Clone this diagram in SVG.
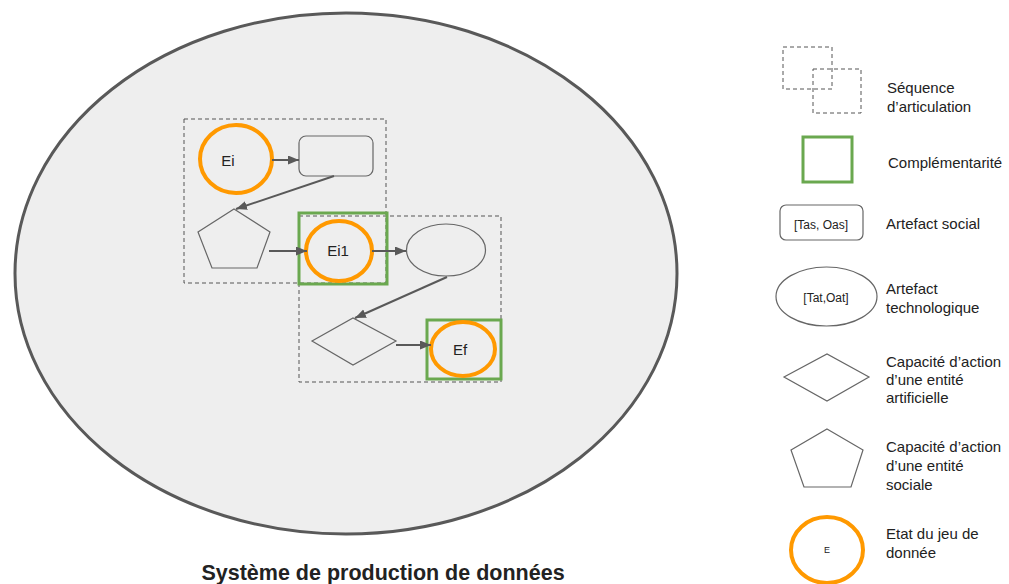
<svg xmlns="http://www.w3.org/2000/svg" width="1009" height="584" viewBox="0 0 1009 584">
<style>
text{font-family:"Liberation Sans",Arial,sans-serif;fill:#222}
.lbl{font-size:15px}
.leg{font-size:15px}
.small{font-size:12px;text-anchor:middle}
.shape{fill:none;stroke:#666;stroke-width:1.2}
.state{fill:none;stroke:#ff9900;stroke-width:4}
.comp{fill:none;stroke:#6aa84f;stroke-width:3}
.seq{fill:none;stroke:#555;stroke-width:1;stroke-dasharray:4 3}
.conn{stroke:#595959;stroke-width:2;fill:none;marker-end:url(#arr)}
</style>
<defs>
<marker id="arr" markerUnits="userSpaceOnUse" markerWidth="12" markerHeight="10" refX="11" refY="4.5" orient="auto">
<path d="M0,0 L11,4.5 L0,9 z" fill="#595959"/>
</marker>
</defs>
<rect width="1009" height="584" fill="#ffffff"/>
<g id="systeme">
<ellipse cx="346" cy="273.5" rx="331" ry="260.5" fill="#eeeeee" stroke="#595959" stroke-width="3"/>
<text x="383" y="580" text-anchor="middle" style="font-size:21.5px;font-weight:bold">Système de production de données</text>
</g>
<g id="sequence1"><rect class="seq" x="184" y="119" width="202" height="164"/></g>
<g id="sequence2"><rect class="seq" x="299" y="216" width="202" height="166"/></g>
<g id="Ei"><ellipse class="state" cx="236" cy="159" rx="36" ry="34"/><text class="lbl" x="228" y="166" text-anchor="middle">Ei</text></g>
<g id="artefact-social"><rect class="shape" x="299" y="136" width="74" height="40" rx="7"/></g>
<g id="capacite-sociale"><polygon class="shape" points="234,209 270,232 257,268 212,268 198,232"/></g>
<g id="complementarite1"><rect class="comp" x="299" y="213" width="88" height="71"/></g>
<g id="Ei1"><ellipse class="state" cx="339" cy="251" rx="33" ry="30"/><text class="lbl" x="338" y="256" text-anchor="middle">Ei1</text></g>
<g id="artefact-techno"><ellipse class="shape" cx="446" cy="250" rx="39.5" ry="26"/></g>
<g id="capacite-artificielle"><polygon class="shape" points="312,341 353,318 396,341 353,365"/></g>
<g id="complementarite2"><rect class="comp" x="427" y="320" width="74" height="59"/></g>
<g id="Ef"><ellipse class="state" cx="463" cy="349" rx="32" ry="27"/><text class="lbl" x="460" y="355" text-anchor="middle">Ef</text></g>
<g id="connectors">
<line class="conn" x1="272" y1="160" x2="299" y2="160"/>
<line class="conn" x1="334" y1="176" x2="236" y2="209"/>
<line class="conn" x1="269" y1="251" x2="307" y2="251"/>
<line class="conn" x1="372" y1="251" x2="406" y2="251"/>
<line class="conn" x1="447" y1="277" x2="355" y2="318"/>
<line class="conn" x1="396" y1="345" x2="431" y2="345"/>
</g>
<g id="legend-sequence">
<rect class="seq" x="783" y="47" width="49" height="42"/>
<rect class="seq" x="813" y="69" width="48" height="44"/>
<text class="leg" x="887" y="93">Séquence</text>
<text class="leg" x="887" y="112">d’articulation</text>
</g>
<g id="legend-complementarite">
<rect class="comp" x="803" y="137" width="49" height="45"/>
<text class="leg" x="888" y="168">Complémentarité</text>
</g>
<g id="legend-artefact-social">
<rect class="shape" x="780" y="205" width="83" height="35" rx="6"/>
<text class="small" x="821" y="229">[Tas, Oas]</text>
<text class="leg" x="886" y="229">Artefact social</text>
</g>
<g id="legend-artefact-techno">
<ellipse class="shape" cx="826.5" cy="296.5" rx="50.5" ry="29.5"/>
<text class="small" x="826" y="302">[Tat,Oat]</text>
<text class="leg" x="886" y="294">Artefact</text>
<text class="leg" x="886" y="313">technologique</text>
</g>
<g id="legend-capacite-artificielle">
<polygon class="shape" points="784,377 827,354 869,377 827,401"/>
<text class="leg" x="886" y="367">Capacité d’action</text>
<text class="leg" x="886" y="385">d’une entité</text>
<text class="leg" x="886" y="403">artificielle</text>
</g>
<g id="legend-capacite-sociale">
<polygon class="shape" points="827,429 863,450 851,487 804,487 791,450"/>
<text class="leg" x="886" y="452">Capacité d’action</text>
<text class="leg" x="886" y="471">d’une entité</text>
<text class="leg" x="886" y="490">sociale</text>
</g>
<g id="legend-etat">
<ellipse class="state" cx="827" cy="550" rx="36" ry="33"/>
<text x="827" y="553" text-anchor="middle" style="font-size:9px">E</text>
<text class="leg" x="886" y="539">Etat du jeu de</text>
<text class="leg" x="886" y="558">donnée</text>
</g>
</svg>
